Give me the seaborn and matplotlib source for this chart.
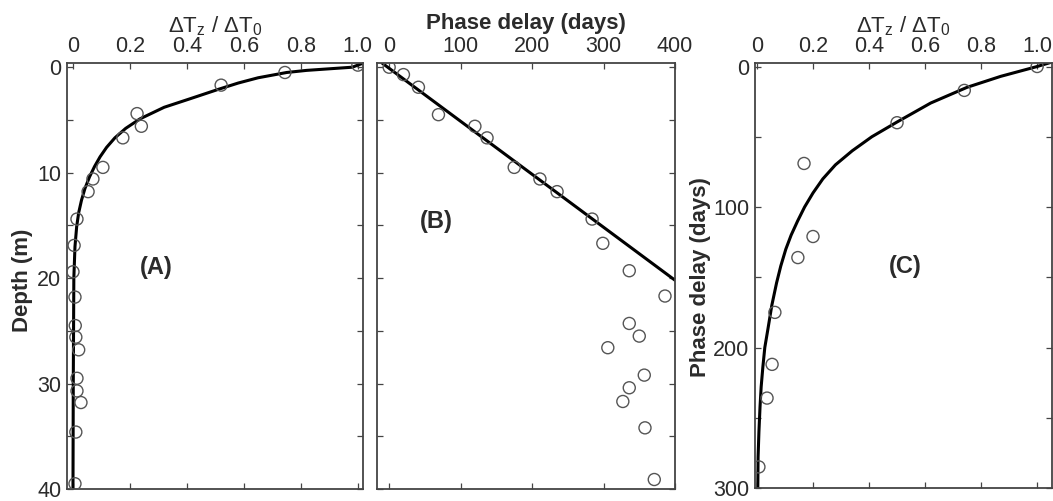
import numpy as np
import pandas as pd
import matplotlib
matplotlib.use("Agg")
import matplotlib.pyplot as plt
from matplotlib.ticker import MultipleLocator
import seaborn as sns

# ---------------- data ----------------
# Panel A: amplitude ratio vs depth
a_depth = [-0.2, 0.5, 1.7, 4.4, 5.6, 6.7, 9.5, 10.6, 11.8, 14.4, 16.9,
           19.4, 21.8, 24.5, 25.6, 26.8, 29.5, 30.7, 31.8, 34.6, 39.5]
a_ratio = [1.0, 0.744, 0.52, 0.225, 0.24, 0.175, 0.105, 0.07, 0.053, 0.014, 0.004,
           0.0, 0.007, 0.008, 0.01, 0.02, 0.014, 0.014, 0.028, 0.01, 0.007]
a_fit_depth = [-0.4, 0.0, 0.3, 0.5, 1.0, 1.5, 2.1, 3.0, 3.8, 4.9, 5.8, 6.7, 7.6,
               8.5, 9.4, 10.4, 11.5, 12.6, 13.8, 15.1, 17.0, 20.0, 30.0, 40.0]
a_fit_ratio = [1.02, 0.98, 0.82, 0.75, 0.65, 0.58, 0.51, 0.41, 0.32, 0.235, 0.185, 0.147, 0.118,
               0.095, 0.076, 0.058, 0.042, 0.030, 0.020, 0.013, 0.007, 0.003, 0.001, 0.0]

# Panel B: phase delay vs depth
b_depth = [0.0, 0.7, 1.9, 4.5, 5.6, 6.7, 9.5, 10.6, 11.8, 14.4, 16.7,
           19.3, 21.7, 24.3, 25.5, 26.6, 29.2, 30.4, 31.7, 34.2, 39.1]
b_phase = [0, 20, 41, 69, 120, 137, 175, 211, 235, 284, 299,
           336, 386, 336, 350, 306, 357, 336, 327, 358, 371]
b_fit_phase = [-10, 400]
b_fit_depth = [-0.4, 20.2]

# Panel C: phase delay vs amplitude ratio
c_ratio = [1.0, 0.74, 0.50, 0.168, 0.20, 0.146, 0.064, 0.054, 0.036, 0.007]
c_phase = [0, 17, 40, 69, 121, 136, 175, 212, 236, 285]
c_fit_ratio = [1.05, 1.0, 0.87, 0.75, 0.62, 0.5, 0.41, 0.34, 0.28, 0.235, 0.2, 0.17, 0.145,
               0.122, 0.103, 0.085, 0.070, 0.053, 0.039, 0.028, 0.021, 0.015, 0.011, 0.007, 0.004, 0.003]
c_fit_phase = [-3, 0, 7, 14.8, 26, 39.5, 50, 60, 70, 80, 90, 100, 110,
               120, 130, 142, 154, 170, 187, 200, 214, 228, 242, 260, 278, 300]

# ---------------- style ----------------
sns.set_style("white")
plt.rcParams["font.family"] = ["Liberation Sans", "DejaVu Sans"]
plt.rcParams["mathtext.fontset"] = "custom"
plt.rcParams["mathtext.rm"] = "Liberation Sans"
plt.rcParams["mathtext.it"] = "Liberation Sans:italic"
plt.rcParams["mathtext.bf"] = "Liberation Sans:bold"

INK = "#2b2b2b"
FRAME = "#444444"
MARK = "#555555"
TICK_FS = 15.5
LAB_FS = 16

W, H = 1053, 501
fig = plt.figure(figsize=(W / 100, H / 100), dpi=100)
fig.patch.set_facecolor("white")

def frame(left, right, top, bottom):
    return [left / W, 1 - bottom / H, (right - left) / W, (bottom - top) / H]

axA = fig.add_axes(frame(67, 363, 63, 489))
axB = fig.add_axes(frame(377, 675, 63, 489))
axC = fig.add_axes(frame(755, 1052, 63, 488))

mk = dict(marker="o", s=75, facecolor="none", edgecolor=MARK, linewidth=1.0, legend=False, zorder=3)

# Panel A
sns.lineplot(x=a_fit_ratio, y=a_fit_depth, sort=False, ax=axA, color="black", linewidth=2.2, zorder=2)
sns.scatterplot(x=a_ratio, y=a_depth, ax=axA, **mk)
axA.set_xlim(-0.021, 1.018)
axA.set_ylim(40, -0.4)
axA.set_xticks([0, 0.2, 0.4, 0.6, 0.8, 1.0])
axA.set_xticklabels(["0", "0.2", "0.4", "0.6", "0.8", "1.0"])
axA.set_yticks([0, 10, 20, 30, 40])
axA.set_yticklabels(["0", "10", "20", "30", "40"])
axA.yaxis.set_minor_locator(MultipleLocator(5))

# Panel B
sns.lineplot(x=b_fit_phase, y=b_fit_depth, sort=False, ax=axB, color="black", linewidth=2.2, zorder=2)
sns.scatterplot(x=b_phase, y=b_depth, ax=axB, **mk)
axB.set_xlim(-17, 400)
axB.set_ylim(40, -0.4)
axB.set_xticks([0, 100, 200, 300, 400])
axB.set_xticklabels(["0", "100", "200", "300", "400"])
axB.yaxis.set_major_locator(MultipleLocator(5))

# Panel C
sns.lineplot(x=c_fit_ratio, y=c_fit_phase, sort=False, ax=axC, color="black", linewidth=2.2, zorder=2)
sns.scatterplot(x=c_ratio, y=c_phase, ax=axC, **mk)
axC.set_xlim(-0.007, 1.053)
axC.set_ylim(300, -2.5)
axC.set_xticks([0, 0.2, 0.4, 0.6, 0.8, 1.0])
axC.set_xticklabels(["0", "0.2", "0.4", "0.6", "0.8", "1.0"])
axC.set_yticks([0, 100, 200, 300])
axC.set_yticklabels(["0", "100", "200", "300"])
axC.yaxis.set_minor_locator(MultipleLocator(50))

for ax in (axA, axB, axC):
    ax.set_facecolor("white")
    ax.xaxis.tick_top()
    ax.xaxis.set_label_position("top")
    ax.tick_params(which="both", direction="in", top=True, bottom=True, left=True, right=True,
                   length=4, width=0.9, color=FRAME, labelsize=TICK_FS, labelcolor=INK,
                   labeltop=True, labelbottom=False, pad=4)
    for sp in ax.spines.values():
        sp.set_visible(True)
        sp.set_color(FRAME)
        sp.set_linewidth(1.3)
    ax.grid(False)
    ax.set_xlabel("")
    ax.set_ylabel("")

axB.tick_params(axis="y", labelleft=False)

dlab = r"$\Delta\mathrm{T_z}\ /\ \Delta\mathrm{T_0}$"
axA.set_xlabel(dlab, fontsize=LAB_FS, color=INK, labelpad=3)
axC.set_xlabel(dlab, fontsize=LAB_FS, color=INK, labelpad=3)
axB.set_xlabel("Phase delay (days)", fontsize=LAB_FS, fontweight="bold", color=INK, labelpad=5)
axA.set_ylabel("Depth (m)", fontsize=LAB_FS, fontweight="bold", color=INK)
axA.yaxis.set_label_coords(-0.115, 0.49)
axC.set_ylabel("Phase delay (days)", fontsize=LAB_FS, fontweight="bold", color=INK)
axC.yaxis.set_label_coords(-0.148, 0.496)

for ax, lab, xy in ((axA, "(A)", (0.30, 0.52)), (axB, "(B)", (0.20, 0.627)), (axC, "(C)", (0.505, 0.52))):
    ax.text(xy[0], xy[1], lab, transform=ax.transAxes, fontsize=17, fontweight="bold",
            color=INK, ha="center", va="center")

fig.savefig("out.png", dpi=100, facecolor="white")
